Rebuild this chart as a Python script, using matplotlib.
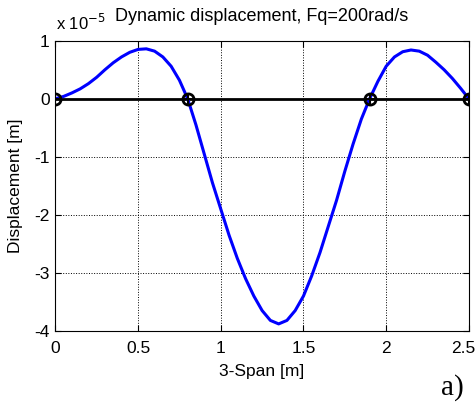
import matplotlib.pyplot as plt
import matplotlib.transforms as mtransforms

# span positions [m] and displacement (units of 1e-5 m)
span_x = [0.0, 0.05, 0.1, 0.15, 0.2, 0.25, 0.3, 0.35, 0.4, 0.45, 0.5, 0.55, 0.6, 0.65, 0.7, 0.75,
          0.8, 0.85, 0.9, 0.95, 1.0, 1.05, 1.1, 1.15, 1.2, 1.25, 1.3, 1.35, 1.4, 1.45, 1.5, 1.55,
          1.6, 1.65, 1.7, 1.75, 1.8, 1.85,
          1.9, 1.95, 2.0, 2.05, 2.1, 2.15, 2.2, 2.25, 2.3, 2.35, 2.4, 2.45, 2.5]
disp_1e5 = [0.0, 0.04, 0.1, 0.17, 0.26, 0.37, 0.5, 0.62, 0.72, 0.8, 0.85, 0.86, 0.82, 0.72, 0.56, 0.32,
            0.0, -0.45, -0.95, -1.45, -1.9, -2.35, -2.75, -3.1, -3.4, -3.65, -3.82, -3.88, -3.82, -3.65, -3.4, -3.05,
            -2.65, -2.2, -1.75, -1.25, -0.78, -0.35,
            0.0, 0.3, 0.56, 0.72, 0.81, 0.84, 0.82, 0.75, 0.63, 0.5, 0.35, 0.18, 0.0]

supports_x = [0.0, 0.8, 1.9, 2.5]
supports_y = [0, 0, 0, 0]

xticks = [0, 0.5, 1, 1.5, 2, 2.5]
yticks = [-4, -3, -2, -1, 0, 1]

plt.rcParams['font.family'] = ['Liberation Sans', 'DejaVu Sans']

fig = plt.figure(figsize=(4.77, 4.03), dpi=100)
ax = fig.add_axes([0.116, 0.179, 0.867, 0.72])

ax.plot([0, 2.5], [0, 0], color='black', linewidth=2, zorder=3)
ax.plot(span_x, disp_1e5, color='blue', linewidth=2.2, zorder=4, solid_joinstyle='round')
ax.plot(supports_x, supports_y, linestyle='none', marker='o', markersize=8,
        mfc='none', mec='black', mew=2, zorder=5)
ax.plot(supports_x, supports_y, linestyle='none', marker='+', markersize=7,
        mec='black', mew=1.5, zorder=5)

ax.set_xlim(0, 2.5)
ax.set_ylim(-4, 1)
ax.set_xticks(xticks)
ax.set_xticklabels(['0', '0.5', '1', '1.5', '2', '2.5'])
ax.set_yticks(yticks)
ax.set_yticklabels([str(t) for t in yticks])
ax.tick_params(direction='in', top=True, right=True, labelsize=12.5, length=4)
ax.tick_params(axis='x', pad=7)
ax.tick_params(axis='y', pad=4)
ax.grid(True, linestyle=':', color='black', linewidth=0.7)
for s in ax.spines.values():
    s.set_linewidth(0.8)

# nudge the last x label left so it stays inside the figure
last = ax.get_xticklabels()[-1]
last.set_transform(last.get_transform() + mtransforms.ScaledTranslation(-6 / 100, 0, fig.dpi_scale_trans))

ax.set_title('Dynamic displacement, Fq=200rad/s', fontsize=13, pad=14)
ax.set_xlabel('3-Span [m]', fontsize=12.5, labelpad=6)
ax.set_ylabel('Displacement [m]', fontsize=12.5, labelpad=8)
fig.text(0.117, 0.918, 'x 10$^{-5}$', fontsize=12, ha='left', va='bottom')
fig.text(0.972, 0.005, 'a)', fontsize=21, family='Liberation Serif', ha='right', va='bottom')

plt.savefig('out.png', dpi=100)
